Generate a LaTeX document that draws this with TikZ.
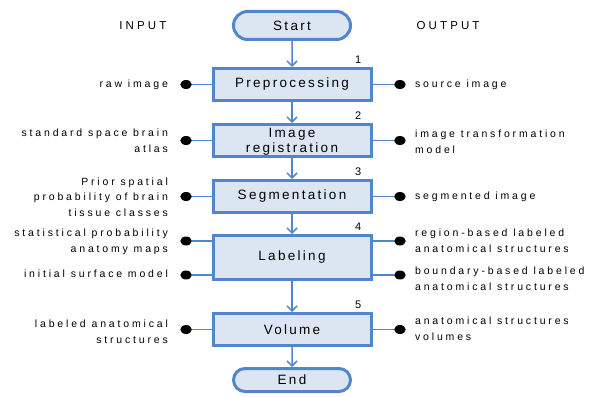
\documentclass[tikz,border=0pt]{standalone}
\usepackage{fontspec}
\setmainfont{Liberation Sans}
\newfontfamily\boxfont{Liberation Sans}[LetterSpace=17]
\newfontfamily\notefont{Liberation Sans}[LetterSpace=27]
\usetikzlibrary{positioning,shapes.misc,shapes.geometric,arrows.meta}

\definecolor{flowline}{RGB}{82,134,204}
\definecolor{flowfill}{RGB}{220,230,242}

\tikzset{
  stepbox/.style={draw=flowline, fill=flowfill, line width=3pt,
    minimum width=158pt, minimum height=32pt, inner sep=0pt, align=center,
    font=\boxfont\fontsize{13.5}{15.5}\selectfont},
  terminal/.style={stepbox, rounded rectangle, minimum width=117pt,
    minimum height=28pt},
  dot/.style={ellipse, fill=black, inner sep=0pt, minimum width=11.5pt,
    minimum height=9pt},
  intext/.style={inner sep=0pt, align=right,
    font=\notefont\fontsize{10.5}{15.7}\selectfont},
  outtext/.style={intext, align=left},
  head/.style={inner sep=0pt, font=\notefont\fontsize{11.5}{14}\selectfont},
  num/.style={inner sep=0pt, font=\fontsize{11}{13}\selectfont},
  flow/.style={draw=flowline, line width=1.5pt,
    -{Straight Barb[length=5pt,width=10pt]}},
  wire/.style={draw=flowline, line width=1.5pt}
}

\begin{document}
\begin{tikzpicture}[x=1pt, y=-1pt]

    \useasboundingbox (0,0) rectangle (601,396);

    % Define nodes
    \node[terminal]                         (start) at (292,25.5) {Start};
    \node[stepbox, below=26pt of start]     (prep) {Preprocessing};
    \node[stepbox, below=21pt of prep, text depth=-2pt] (reg) {Image\\registration};
    \node[stepbox, below=21pt of reg]       (seg) {Segmentation};
    \node[stepbox, below=20pt of seg, minimum height=44pt] (lab) {Labeling};
    \node[stepbox, below=31pt of lab]       (vol) {Volume};
    \node[terminal, below=20pt of vol, minimum height=23pt] (end) {End};

    \node[head, left=65.5pt of start]       (input) {INPUT};
    \node[head, right=64.5pt of start]      (output) {OUTPUT};

    % step numbers
    \node[num, above left=3pt and 11pt of prep.north east] (n1) {1};
    \node[num, above left=3pt and 11pt of reg.north east]  (n2) {2};
    \node[num, above left=3pt and 11pt of seg.north east]  (n3) {3};
    \node[num, above left=3pt and 11pt of lab.north east]  (n4) {4};
    \node[num, above left=3pt and 11pt of vol.north east]  (n5) {5};

    % input dots
    \node[dot, left=19.5pt of prep]                        (din1) {};
    \node[dot, left=19.5pt of reg]                         (din2) {};
    \node[dot, left=19.5pt of seg]                         (din3) {};
    \node[dot, left=19.5pt of lab.west, yshift=16.5pt]     (din4) {};
    \node[dot, left=19.5pt of lab.west, yshift=-17.5pt]    (din5) {};
    \node[dot, left=19.5pt of vol]                         (din6) {};

    % output dots
    \node[dot, right=21.5pt of prep]                       (dout1) {};
    \node[dot, right=21.5pt of reg]                        (dout2) {};
    \node[dot, right=21.5pt of seg]                        (dout3) {};
    \node[dot, right=21.5pt of lab.east, yshift=16.5pt]    (dout4) {};
    \node[dot, right=21.5pt of lab.east, yshift=-17.5pt]   (dout5) {};
    \node[dot, right=21.5pt of vol]                        (dout6) {};

    % inputs
    \node[intext, left=12pt of din1]                   (in1) {raw image};
    \node[intext, left=12pt of din2, yshift=-0.5pt]    (in2) {standard space brain\\atlas};
    \node[intext, left=12pt of din3, yshift=-0.5pt]    (in3) {Prior spatial\\probability of brain\\tissue classes};
    \node[intext, left=12pt of din4, yshift=-1pt]      (in4) {statistical probability\\anatomy maps};
    \node[intext, left=12pt of din5, yshift=1pt]       (in5) {initial surface model};
    \node[intext, left=12pt of din6, yshift=-2pt]      (in6) {labeled anatomical\\structures};

    % outputs
    \node[outtext, right=9pt of dout1]                 (out1) {source image};
    \node[outtext, right=9pt of dout2, yshift=-1pt]    (out2) {image transformation\\model};
    \node[outtext, right=9pt of dout3]                 (out3) {segmented image};
    \node[outtext, right=9pt of dout4, yshift=0.5pt]   (out4) {region-based labeled\\anatomical structures};
    \node[outtext, right=9pt of dout5, yshift=-3.5pt]  (out5) {boundary-based labeled\\anatomical structures};
    \node[outtext, right=9pt of dout6, yshift=1pt]     (out6) {anatomical structures\\volumes};

    % Connect the nodes
    \draw[flow] (start) -- (prep);
    \draw[flow] (prep) -- (reg);
    \draw[flow] (reg) -- (seg);
    \draw[flow] (seg) -- (lab);
    \draw[flow] (lab) -- (vol);
    \draw[flow] (vol) -- (end);

    \foreach \d/\s in {din1/prep, din2/reg, din3/seg, din4/lab, din5/lab, din6/vol}
      \draw[wire] (\d) -- (\d -| \s.west);
    \foreach \d/\s in {dout1/prep, dout2/reg, dout3/seg, dout4/lab, dout5/lab, dout6/vol}
      \draw[wire] (\d) -- (\d -| \s.east);

\end{tikzpicture}
\end{document}
